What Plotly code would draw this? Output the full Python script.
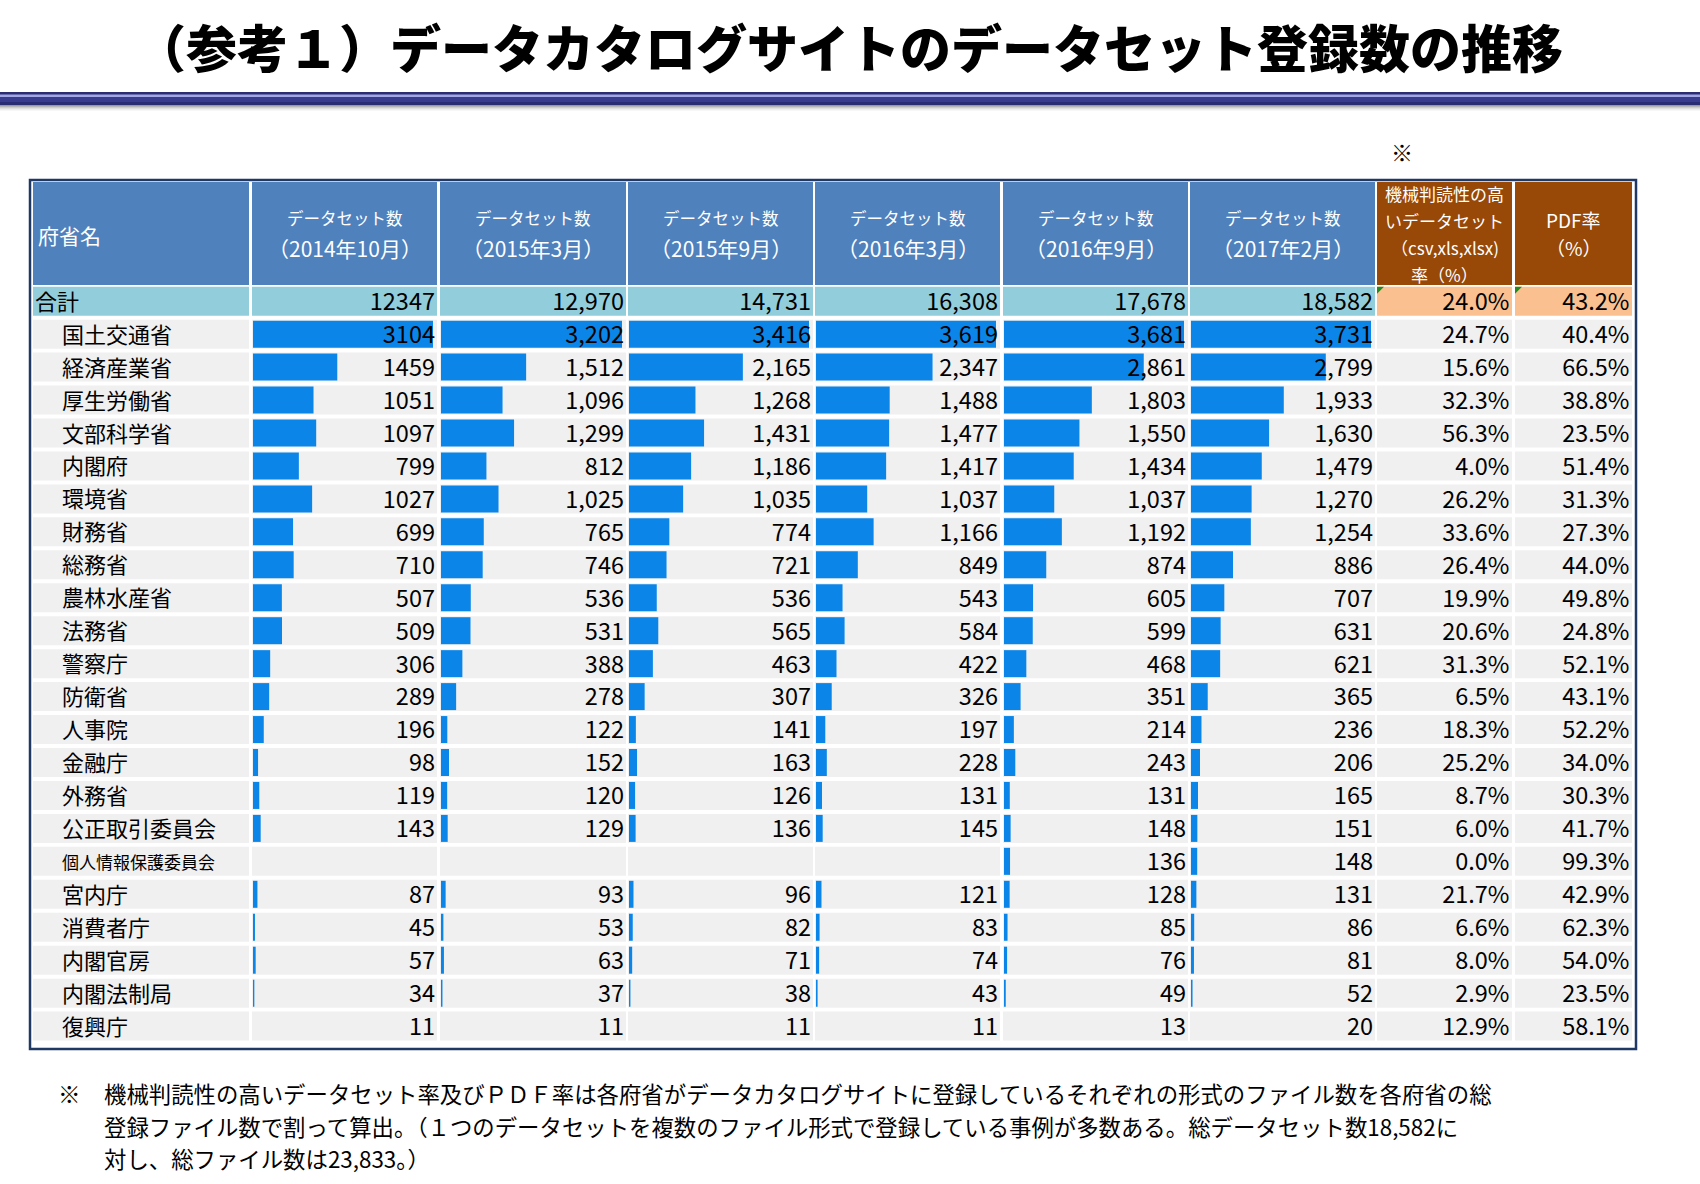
import plotly.graph_objects as go

# ---------------- data ----------------
MINISTRIES = ['国土交通省', '経済産業省', '厚生労働省', '文部科学省', '内閣府', '環境省', '財務省',
              '総務省', '農林水産省', '法務省', '警察庁', '防衛省', '人事院', '金融庁', '外務省',
              '公正取引委員会', '個人情報保護委員会', '宮内庁', '消費者庁', '内閣官房', '内閣法制局', '復興庁']

DS_2014_10 = [3104, 1459, 1051, 1097, 799, 1027, 699, 710, 507, 509, 306, 289, 196, 98, 119, 143, None, 87, 45, 57, 34, 11]
DS_2015_03 = [3202, 1512, 1096, 1299, 812, 1025, 765, 746, 536, 531, 388, 278, 122, 152, 120, 129, None, 93, 53, 63, 37, 11]
DS_2015_09 = [3416, 2165, 1268, 1431, 1186, 1035, 774, 721, 536, 565, 463, 307, 141, 163, 126, 136, None, 96, 82, 71, 38, 11]
DS_2016_03 = [3619, 2347, 1488, 1477, 1417, 1037, 1166, 849, 543, 584, 422, 326, 197, 228, 131, 145, None, 121, 83, 74, 43, 11]
DS_2016_09 = [3681, 2861, 1803, 1550, 1434, 1037, 1192, 874, 605, 599, 468, 351, 214, 243, 131, 148, 136, 128, 85, 76, 49, 13]
DS_2017_02 = [3731, 2799, 1933, 1630, 1479, 1270, 1254, 886, 707, 631, 621, 365, 236, 206, 165, 151, 148, 131, 86, 81, 52, 20]
TOTALS = [12347, 12970, 14731, 16308, 17678, 18582]

MR_RATE = [24.7, 15.6, 32.3, 56.3, 4.0, 26.2, 33.6, 26.4, 19.9, 20.6, 31.3, 6.5, 18.3, 25.2, 8.7, 6.0, 0.0, 21.7, 6.6, 8.0, 2.9, 12.9]
PDF_RATE = [40.4, 66.5, 38.8, 23.5, 51.4, 31.3, 27.3, 44.0, 49.8, 24.8, 52.1, 43.1, 52.2, 34.0, 30.3, 41.7, 99.3, 42.9, 62.3, 54.0, 23.5, 58.1]
TOTAL_MR = 24.0
TOTAL_PDF = 43.2

TOTAL_LABEL = '合計'
HEAD_NAME = '府省名'
HEAD_PERIODS = ['（2014年10月）', '（2015年3月）', '（2015年9月）', '（2016年3月）', '（2016年9月）', '（2017年2月）']
HEAD_DS = 'データセット数'
HEAD_MR = ['機械判読性の高', 'いデータセット', '（csv,xls,xlsx)', '率（%）']
HEAD_PDF = ['PDF率', '（%）']
TITLE = '（参考１）データカタログサイトのデータセット登録数の推移'
NOTE_LINES = ['機械判読性の高いデータセット率及びＰＤＦ率は各府省がデータカタログサイトに登録しているそれぞれの形式のファイル数を各府省の総',
              '登録ファイル数で割って算出。（１つのデータセットを複数のファイル形式で登録している事例が多数ある。総データセット数18,582に',
              '対し、総ファイル数は23,833。）']

SERIES = [DS_2014_10, DS_2015_03, DS_2015_09, DS_2016_03, DS_2016_09, DS_2017_02]

# ---------------- layout / style ----------------
W, H = 1700, 1184
FONT = 'Noto Sans CJK JP'
HEADER_BLUE = '#4F81BD'
HEADER_BROWN = '#984807'
TOTAL_TEAL = '#92CDDC'
TOTAL_ORANGE = '#FAC090'
BODY_GRAY = '#F0F0F0'
BAR_BLUE = '#0B86E8'
BORDER = '#1F3864'

COLS = [(33, 249), (252, 437), (440, 626), (628, 813), (815, 1000), (1003, 1188),
        (1190, 1375), (1377, 1512), (1515, 1632)]
HEADER_Y = (182, 285)
ROW0 = 301.2      # pixel centre of total row
PITCH = 32.95     # pixel per row
CELL_H = 29
BAR_H = 27
TEXT_DROP = 3.0   # px the cell texts sit below the cell centre
BAR_PAD_L, BAR_PAD_R = 1, 4   # bar inset inside the cell
TEXT_PAD_R = 2                # numbers inset inside the cell

def fx(x):
    return x / W

def fy(y):
    return 1 - y / H

ROWS = [TOTAL_LABEL] + MINISTRIES
NROW = len(ROWS)
y_range = [(H - ROW0) / PITCH, -ROW0 / PITCH]
d = TEXT_DROP / PITCH
y2_range = [y_range[0] - d, y_range[1] - d]

fig = go.Figure()
shapes = []
annotations = []

# title rule
shapes.append(dict(type='rect', xref='paper', yref='paper', x0=0, x1=1, y0=fy(92), y1=fy(105),
                   fillcolor='#2B2D73', line_width=0, layer='below'))
shapes.append(dict(type='rect', xref='paper', yref='paper', x0=0, x1=1, y0=fy(94.5), y1=fy(97),
                   fillcolor='#A3A6E6', line_width=0, layer='below'))
shapes.append(dict(type='rect', xref='paper', yref='paper', x0=0, x1=1, y0=fy(97), y1=fy(102),
                   fillcolor='#393C8E', line_width=0, layer='below'))
for i, c in enumerate(['#9A9A9A', '#B5B5B5', '#CDCDCD', '#E0E0E0', '#EEEEEE', '#F7F7F7']):
    shapes.append(dict(type='rect', xref='paper', yref='paper', x0=0, x1=1, y0=fy(105 + i + 1), y1=fy(105 + i),
                       fillcolor=c, line_width=0, layer='below'))

# header cells
for ci, (x0, x1) in enumerate(COLS):
    col = HEADER_BROWN if ci >= 7 else HEADER_BLUE
    shapes.append(dict(type='rect', xref='paper', yref='paper', x0=fx(x0), x1=fx(x1),
                       y0=fy(HEADER_Y[1]), y1=fy(HEADER_Y[0]), fillcolor=col, line_width=0, layer='below'))

# body cells
for ri in range(NROW):
    cy = ROW0 + ri * PITCH
    for ci, (x0, x1) in enumerate(COLS):
        if ri == 0:
            col = TOTAL_ORANGE if ci >= 7 else TOTAL_TEAL
        else:
            col = BODY_GRAY
        shapes.append(dict(type='rect', xref='paper', yref='paper', x0=fx(x0), x1=fx(x1),
                           y0=fy(cy + CELL_H / 2), y1=fy(cy - CELL_H / 2),
                           fillcolor=col, line_width=0, layer='below'))

# little green markers in total cells
for ci in (7, 8):
    x0 = COLS[ci][0]
    y0 = ROW0 - CELL_H / 2
    path = 'M {a},{b} L {c},{b} L {a},{d} Z'.format(a=fx(x0), b=fy(y0), c=fx(x0 + 7), d=fy(y0 + 7))
    shapes.append(dict(type='path', xref='paper', yref='paper', path=path,
                       fillcolor='#1E8C1E', line_width=0, layer='above'))

# table border
shapes.append(dict(type='rect', xref='paper', yref='paper', x0=fx(30), x1=fx(1636), y0=fy(1049), y1=fy(180),
                   line=dict(color=BORDER, width=2.5), fillcolor='rgba(0,0,0,0)', layer='above'))

# ---------------- traces & axes ----------------
NUM_SIZE = 23.5
bar_h_units = BAR_H / PITCH
axes = {}
for k, vals in enumerate(SERIES):
    ax = 'x' if k == 0 else 'x%d' % (k + 1)
    name = 'xaxis' if k == 0 else 'xaxis%d' % (k + 1)
    x0, x1 = COLS[k + 1]
    vmin = min(v for v in vals if v is not None)
    vmax = max(v for v in vals if v is not None)
    bar_px = (x1 - BAR_PAD_R) - (x0 + BAR_PAD_L)
    per_px = (vmax - vmin) / bar_px
    rmax = vmax + (BAR_PAD_R - TEXT_PAD_R) * per_px     # axis ends where the numbers end
    axes[name] = dict(domain=[fx(x0 + BAR_PAD_L), fx(x1 - TEXT_PAD_R)], range=[vmin, rmax],
                      visible=False, anchor='y', fixedrange=True)
    fig.add_trace(go.Bar(y=MINISTRIES, x=vals, orientation='h', xaxis=ax, yaxis='y',
                         marker=dict(color=BAR_BLUE, line_width=0), width=bar_h_units,
                         hoverinfo='skip', showlegend=False))
    if k == 0:
        texts = [str(TOTALS[k])] + ['' if v is None else str(v) for v in vals]
    else:
        texts = ['{:,}'.format(TOTALS[k])] + ['' if v is None else '{:,}'.format(v) for v in vals]
    fig.add_trace(go.Scatter(y=ROWS, x=[rmax] * NROW, mode='text', text=texts, textposition='middle left',
                             xaxis=ax, yaxis='y2', cliponaxis=False, hoverinfo='skip', showlegend=False,
                             textfont=dict(family=FONT, size=NUM_SIZE, color='black')))

for k, (tot, vals) in enumerate([(TOTAL_MR, MR_RATE), (TOTAL_PDF, PDF_RATE)]):
    ax = 'x%d' % (k + 7)
    x0, x1 = COLS[k + 7]
    axes['xaxis%d' % (k + 7)] = dict(domain=[fx(x0), fx(x1 - 2.5)], range=[0, 1], visible=False,
                                     anchor='y', fixedrange=True)
    texts = ['{:.1f}%'.format(tot)] + ['{:.1f}%'.format(v) for v in vals]
    fig.add_trace(go.Scatter(y=ROWS, x=[1] * NROW, mode='text', text=texts,
                             textposition='middle left', xaxis=ax, yaxis='y2', cliponaxis=False,
                             hoverinfo='skip', showlegend=False,
                             textfont=dict(family=FONT, size=NUM_SIZE, color='black')))

# row labels
axes['xaxis9'] = dict(domain=[fx(COLS[0][0]), fx(COLS[0][1])], range=[0, COLS[0][1] - COLS[0][0]],
                      visible=False, anchor='y', fixedrange=True)
label_x = [2] + [29] * len(MINISTRIES)
label_size = [22] + [17 if len(m) > 8 else 22 for m in MINISTRIES]
fig.add_trace(go.Scatter(y=ROWS, x=label_x, mode='text', text=ROWS, textposition='middle right',
                         xaxis='x9', yaxis='y2', cliponaxis=False, hoverinfo='skip', showlegend=False,
                         textfont=dict(family=FONT, size=label_size, color='black')))

# ---------------- header text ----------------
annotations.append(dict(text=HEAD_NAME, xref='paper', yref='paper', x=fx(36), y=fy(235), xanchor='left',
                        yanchor='middle', showarrow=False, font=dict(family=FONT, size=21, color='white')))
for k in range(6):
    x0, x1 = COLS[k + 1]
    cx = fx((x0 + x1) / 2)
    annotations.append(dict(text=HEAD_DS, xref='paper', yref='paper', x=cx, y=fy(218), xanchor='center',
                            yanchor='middle', showarrow=False, font=dict(family=FONT, size=16.5, color='white')))
    annotations.append(dict(text=HEAD_PERIODS[k], xref='paper', yref='paper', x=cx, y=fy(248), xanchor='center',
                            yanchor='middle', showarrow=False, font=dict(family=FONT, size=21, color='white')))
cx7 = fx((COLS[7][0] + COLS[7][1]) / 2)
for line, yy in zip(HEAD_MR, [194, 220.5, 247.5, 274.5]):
    annotations.append(dict(text=line, xref='paper', yref='paper', x=cx7, y=fy(yy), xanchor='center',
                            yanchor='middle', showarrow=False, font=dict(family=FONT, size=17, color='white')))
cx8 = fx((COLS[8][0] + COLS[8][1]) / 2)
for line, yy in zip(HEAD_PDF, [220, 248]):
    annotations.append(dict(text=line, xref='paper', yref='paper', x=cx8, y=fy(yy), xanchor='center',
                            yanchor='middle', showarrow=False, font=dict(family=FONT, size=19, color='white')))

# title
annotations.append(dict(text=TITLE, xref='paper', yref='paper', x=fx(849), y=fy(46),
                        xanchor='center', yanchor='middle', showarrow=False,
                        font=dict(family=FONT, size=51, color='black', weight=900)))
# ※ mark above table
annotations.append(dict(text='※', xref='paper', yref='paper', x=fx(1402), y=fy(151), xanchor='center',
                        yanchor='middle', showarrow=False, font=dict(family=FONT, size=22, color='black')))
# footnote
NOTE_Y = [1093, 1125.5, 1158]
annotations.append(dict(text='※', xref='paper', yref='paper', x=fx(56), y=fy(NOTE_Y[0]), xanchor='left',
                        yanchor='middle', showarrow=False, font=dict(family=FONT, size=22.5, color='black')))
for line, yy in zip(NOTE_LINES, NOTE_Y):
    annotations.append(dict(text=line, xref='paper', yref='paper', x=fx(102), y=fy(yy), xanchor='left',
                            yanchor='middle', showarrow=False, font=dict(family=FONT, size=22.4, color='black')))

fig.update_layout(
    width=W, height=H, margin=dict(l=0, r=0, t=0, b=0),
    paper_bgcolor='white', plot_bgcolor='rgba(0,0,0,0)',
    barmode='overlay', showlegend=False,
    yaxis=dict(type='category', categoryorder='array', categoryarray=ROWS, range=y_range,
               domain=[0, 1], visible=False, fixedrange=True),
    yaxis2=dict(type='category', categoryorder='array', categoryarray=ROWS, range=y2_range,
                domain=[0, 1], visible=False, fixedrange=True, overlaying='y', anchor='x'),
    shapes=shapes, annotations=annotations,
    **axes
)

fig.write_html('out.html', config={'displayModeBar': False},
               post_script="document.body.style.margin='0';document.body.style.overflow='hidden';")
